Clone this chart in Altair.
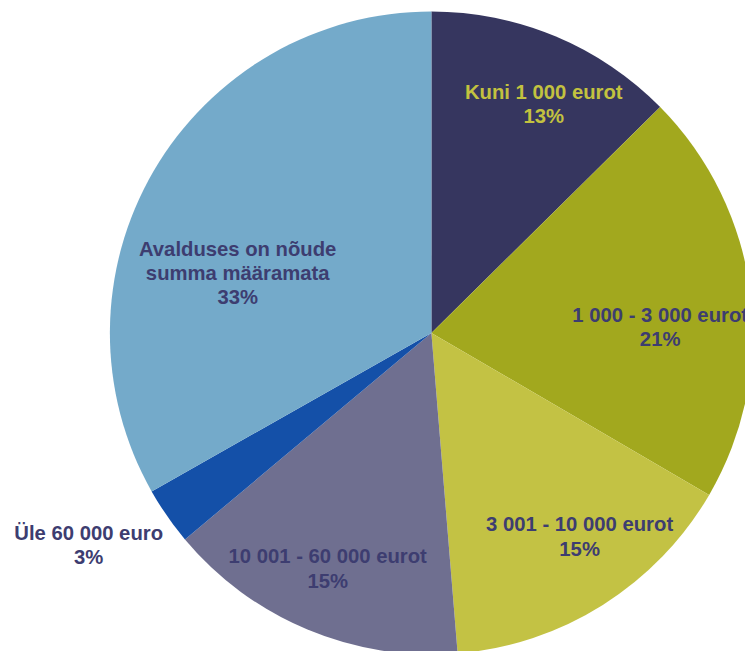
import altair as alt
import pandas as pd

categories = [
    "Kuni 1 000 eurot",
    "1 000 - 3 000 eurot",
    "3 001 - 10 000 eurot",
    "10 001 - 60 000 eurot",
    "Üle 60 000 euro",
    "Avalduses on nõude\nsumma määramata",
]
values = [12.6, 20.8, 15.3, 15.2, 2.9, 33.2]
colors = ["#36365F", "#A2A81E", "#C3C244", "#6F6F90", "#1450A8", "#74AACA"]

df = pd.DataFrame({"category": categories, "value": values, "order": list(range(len(categories)))})

CX, CY, R = 428, 325, 325

base = alt.Chart(df).transform_stack(
    stack="value", groupby=[], as_=["v0", "v1"], sort=[alt.SortField("order")]
).transform_calculate(
    mid="(datum.v0 + datum.v1) / 2",
    label="datum.category + '\\n' + format(datum.value, '.0f') + '%'",
)

theta_scale = alt.Scale(domain=[0, 100])

arcs = base.mark_arc(outerRadius=R).encode(
    theta=alt.Theta("v0:Q", scale=theta_scale),
    theta2="v1:Q",
    color=alt.Color("category:N", scale=alt.Scale(domain=categories, range=colors), legend=None),
    x=alt.value(CX),
    y=alt.value(CY),
)

# per-label placement: (radius, dx, dy, text colour)
placement = [
    (253, 16, -9, "#C3C23F"),
    (224, 9, 11, "#3D3D70"),
    (236, 24, -5, "#3D3D70"),
    (259, -5, -12, "#3D3D70"),
    (407, -12, -29, "#3D3D70"),
    (207, -17, 20, "#3D3D70"),
]

layers = [arcs]
for cat, (rad, dx, dy, col) in zip(categories, placement):
    layers.append(
        base.transform_filter(alt.FieldEqualPredicate(field="category", equal=cat))
        .mark_text(
            radius=rad, dx=dx, dy=dy, fontSize=20.5, fontWeight="bold",
            font="Liberation Sans", color=col, lineBreak="\n", lineHeight=24.5,
            align="center", baseline="middle",
        )
        .encode(
            theta=alt.Theta("mid:Q", scale=theta_scale),
            text="label:N",
            x=alt.value(CX),
            y=alt.value(CY),
        )
    )

chart = alt.layer(*layers).properties(
    width=745, height=643, autosize=alt.AutoSizeParams(type="none"), padding=0
).configure_view(stroke=None)

chart.save("out.html", embed_options={"renderer": "svg", "actions": False})
